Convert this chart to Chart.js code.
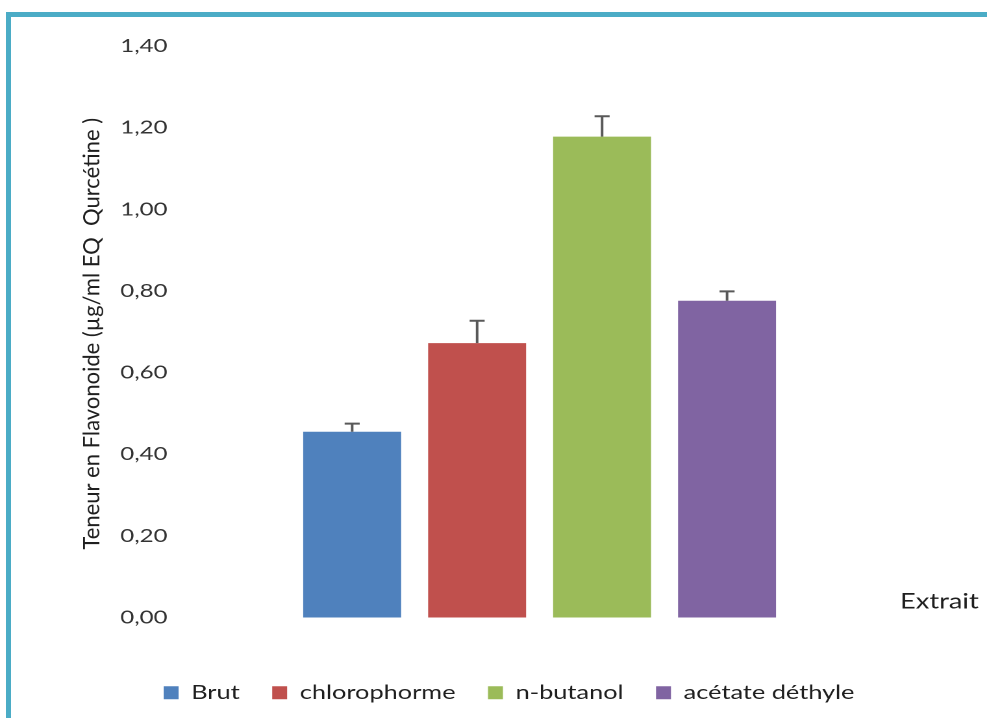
<!DOCTYPE html>
<html>
<head>
<meta charset="utf-8">
<script src="https://cdn.jsdelivr.net/npm/chart.js@4/dist/chart.umd.min.js"></script>
<style>
  html, body { margin: 0; padding: 0; background: #fff; width: 987px; height: 718px; overflow: hidden; }
  #frame {
    position: absolute; left: 6px; top: 12px; width: 1000px; height: 730px;
    border-top: 5px solid #4bacc6; border-left: 5px solid #4bacc6; box-sizing: border-box;
  }
  #wrap {
    position: absolute; left: 0; top: 0; width: 760px; height: 718px;
    transform: scaleX(1.298684); transform-origin: 0 0;
  }
</style>
</head>
<body>
<div id="frame"></div>
<div id="wrap"><canvas id="c" width="760" height="718"></canvas></div>
<script>
// Flavonoid content per extract (µg/ml quercetin equivalent)
const categories = ['Extrait'];
const seriesNames = ['Brut', 'chlorophorme', 'n-butanol', 'acétate déthyle'];
const seriesValues = [0.455, 0.672, 1.178, 0.776];
const seriesErrors = [0.02, 0.055, 0.05, 0.023];
const seriesColors = ['#4f81bd', '#c0504d', '#9bbb59', '#8064a2'];
const yMin = 0, yMax = 1.4, yStep = 0.2;
const yTitle = 'Teneur en Flavonoide (µg/ml EQ  Qurcétine )';

// horizontal stretch applied to the canvas by the wrapper
const SX = 987 / 760;
const PLOT_LEFT = 139;
const LEGEND_LEFT = 101;

Chart.defaults.font.family = 'Lato, "Open Sans", sans-serif';

const errorBars = {
  id: 'errorBars',
  afterDatasetsDraw(chart) {
    const ctx = chart.ctx;
    const y = chart.scales.y;
    ctx.save();
    ctx.strokeStyle = '#595959';
    ctx.lineWidth = 2;
    chart.data.datasets.forEach((ds, i) => {
      const meta = chart.getDatasetMeta(i);
      meta.data.forEach((bar, j) => {
        const v = ds.data[j];
        const top = y.getPixelForValue(v + ds.errors[j]);
        ctx.beginPath();
        ctx.moveTo(bar.x, bar.y);
        ctx.lineTo(bar.x, top);
        ctx.moveTo(bar.x - 5.8, top);
        ctx.lineTo(bar.x + 5.8, top);
        ctx.stroke();
      });
    });
    ctx.restore();
  }
};

// legend row starts under the value axis labels rather than at the canvas edge
const legendShift = {
  id: 'legendShift',
  afterLayout(chart) {
    if (chart.legend) chart.legend.left = LEGEND_LEFT;
  }
};

const axisTexts = {
  id: 'axisTexts',
  afterDraw(chart) {
    const ctx = chart.ctx;
    const area = chart.chartArea;
    const y0 = chart.scales.y.getPixelForValue(0);
    ctx.save();
    ctx.fillStyle = '#1f1f1f';
    // value axis title, kept unstretched
    ctx.font = '22px Lato, "Open Sans", sans-serif';
    ctx.textAlign = 'center';
    ctx.textBaseline = 'middle';
    ctx.translate(70.8, (area.top + area.bottom) / 2 + 2);
    ctx.scale(1 / SX, 1);
    ctx.rotate(-Math.PI / 2);
    ctx.fillText(yTitle, 0, 0);
    ctx.restore();

    ctx.save();
    ctx.fillStyle = '#1f1f1f';
    ctx.font = '21px Lato, "Open Sans", sans-serif';
    ctx.textAlign = 'left';
    ctx.textBaseline = 'middle';
    ctx.fillText(chart.scales.x.getLabels()[0], area.right + 1, y0 - 16);
    ctx.restore();
  }
};

new Chart(document.getElementById('c'), {
  type: 'bar',
  data: {
    labels: categories,
    datasets: seriesNames.map((name, i) => ({
      label: name,
      data: [seriesValues[i]],
      errors: [seriesErrors[i]],
      backgroundColor: seriesColors[i],
      borderWidth: 0
    }))
  },
  options: {
    responsive: false,
    devicePixelRatio: 2,
    animation: false,
    categoryPercentage: 0.696,
    barPercentage: 0.784,
    layout: { padding: { left: 0, right: 68, top: 46, bottom: 5.5 } },
    plugins: {
      legend: {
        position: 'bottom',
        align: 'start',
        labels: {
          boxWidth: 11.5,
          boxHeight: 13,
          padding: 25,
          color: '#1f1f1f',
          font: { size: 19.5 }
        }
      },
      tooltip: { enabled: false }
    },
    scales: {
      x: {
        grid: { display: false, drawTicks: false },
        border: { display: false },
        ticks: { display: false },
        afterFit(s) { s.height = 40.5; }
      },
      y: {
        min: yMin,
        max: yMax,
        grid: { display: false, drawTicks: false },
        border: { display: false },
        ticks: {
          stepSize: yStep,
          padding: 10,
          color: '#333',
          font: { size: 18.5 },
          callback: v => v.toFixed(2).replace('.', ',')
        },
        afterFit(s) { s.width = PLOT_LEFT; }
      }
    }
  },
  plugins: [errorBars, legendShift, axisTexts]
});
</script>
</body>
</html>
